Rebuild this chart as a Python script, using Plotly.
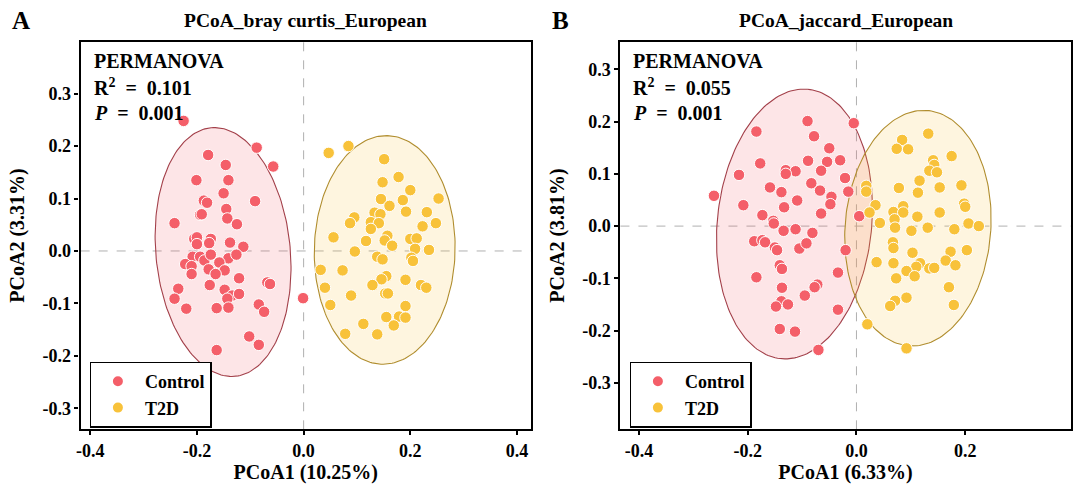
import numpy as np
import plotly.graph_objects as go

# ---- panel A: bray curtis ----
a_ctrl_x = [-0.225, -0.088, -0.057, -0.179, -0.146, -0.201, -0.141, -0.150, -0.187, -0.181,
            -0.091, -0.145, -0.194, -0.191, -0.143, -0.242, -0.125, -0.205, -0.200, -0.174,
            -0.200, -0.177, -0.138, -0.113, -0.208, -0.194, -0.186, -0.174, -0.141, -0.126,
            -0.222, -0.210, -0.210, -0.178, -0.158, -0.148, -0.165, -0.121, -0.068, -0.063,
            -0.235, -0.176, -0.148, -0.242, -0.134, -0.143, -0.121, -0.220, -0.163, -0.141,
            -0.084, -0.074, -0.001, -0.102, -0.084, -0.163]
a_ctrl_y = [0.248, 0.197, 0.161, 0.183, 0.164, 0.135, 0.135, 0.110, 0.096, 0.092,
            0.095, 0.080, 0.069, 0.070, 0.062, 0.053, 0.051, 0.023, 0.026, 0.023,
            0.013, 0.015, 0.016, 0.008, -0.011, -0.011, -0.018, -0.007, -0.014, -0.007,
            -0.025, -0.029, -0.044, -0.035, -0.022, -0.037, -0.044, -0.052, -0.060, -0.063,
            -0.072, -0.065, -0.074, -0.091, -0.085, -0.091, -0.082, -0.110, -0.109, -0.108,
            -0.102, -0.116, -0.090, -0.163, -0.179, -0.189]
a_t2d_x = [0.047, 0.084, 0.151, 0.178, 0.148, 0.200, 0.145, 0.186, 0.253, 0.161,
           0.192, 0.133, 0.144, 0.095, 0.231, 0.087, 0.126, 0.141, 0.126, 0.248,
           0.223, 0.056, 0.117, 0.157, 0.152, 0.166, 0.200, 0.212, 0.209, 0.235,
           0.096, 0.138, 0.148, 0.202, 0.205, 0.032, 0.073, 0.155, 0.146, 0.191,
           0.129, 0.040, 0.220, 0.230, 0.089, 0.153, 0.158, 0.050, 0.191, 0.155,
           0.179, 0.191, 0.112, 0.169, 0.078, 0.138]
a_t2d_y = [0.187, 0.200, 0.175, 0.141, 0.131, 0.116, 0.099, 0.097, 0.100, 0.086,
           0.075, 0.073, 0.070, 0.064, 0.074, 0.053, 0.055, 0.053, 0.042, 0.053,
           0.047, 0.026, 0.019, 0.029, 0.020, 0.010, 0.023, 0.024, 0.004, 0.002,
           -0.001, -0.011, -0.016, -0.013, -0.019, -0.036, -0.037, -0.048, -0.054, -0.055,
           -0.065, -0.070, -0.065, -0.070, -0.085, -0.081, -0.081, -0.103, -0.105, -0.126,
           -0.125, -0.127, -0.139, -0.142, -0.158, -0.159]

# ---- panel B: jaccard ----
b_ctrl_x = [-0.262, -0.184, -0.090, -0.005, -0.177, -0.078, -0.216, -0.050, -0.130, -0.112,
            -0.089, -0.054, -0.030, -0.065, -0.130, -0.021, -0.159, -0.138, -0.083, -0.067,
            -0.015, -0.046, -0.048, -0.208, -0.109, -0.133, -0.173, -0.153, -0.152, -0.065,
            0.005, -0.134, -0.112, -0.081, -0.188, -0.173, -0.168, -0.150, -0.146, -0.105,
            -0.092, -0.020, -0.141, -0.137, -0.034, -0.184, -0.137, -0.072, -0.077, -0.095,
            -0.138, -0.126, -0.148, -0.034, -0.141, -0.113, -0.070]
b_ctrl_y = [0.058, 0.181, 0.201, 0.197, 0.120, 0.172, 0.098, 0.149, 0.107, 0.105,
            0.125, 0.123, 0.126, 0.106, 0.100, 0.092, 0.074, 0.065, 0.082, 0.068,
            0.066, 0.056, 0.042, 0.040, 0.049, 0.036, 0.021, 0.010, 0.005, 0.024,
            0.019, -0.009, -0.006, -0.013, -0.029, -0.027, -0.031, -0.041, -0.046, -0.043,
            -0.033, -0.046, -0.075, -0.082, -0.089, -0.098, -0.118, -0.112, -0.117, -0.133,
            -0.144, -0.150, -0.154, -0.160, -0.197, -0.202, -0.237]
b_t2d_x = [0.132, 0.084, 0.074, 0.095, 0.175, 0.141, 0.143, 0.134, 0.148, 0.116,
           0.018, 0.018, 0.078, 0.153, 0.193, 0.113, 0.035, 0.086, 0.198, 0.200,
           0.024, 0.068, 0.086, 0.153, 0.070, 0.112, 0.043, 0.071, 0.101, 0.131,
           0.180, 0.206, 0.225, 0.067, 0.068, 0.103, 0.173, 0.203, 0.037, 0.068,
           0.117, 0.110, 0.092, 0.134, 0.143, 0.164, 0.182, 0.107, 0.073, 0.170,
           0.092, 0.071, 0.062, 0.179, 0.020, 0.092]
b_t2d_y = [0.177, 0.165, 0.148, 0.147, 0.134, 0.126, 0.117, 0.106, 0.103, 0.087,
           0.077, 0.066, 0.073, 0.074, 0.078, 0.064, 0.040, 0.038, 0.043, 0.037,
           0.026, 0.027, 0.026, 0.026, 0.013, 0.018, 0.006, -0.003, -0.009, -0.003,
           -0.006, 0.005, 0.000, -0.031, -0.042, -0.051, -0.049, -0.046, -0.069, -0.071,
           -0.071, -0.078, -0.086, -0.081, -0.080, -0.066, -0.075, -0.096, -0.100, -0.117,
           -0.137, -0.143, -0.153, -0.151, -0.188, -0.234]

# ellipse params: [cx, cy, semi-major, semi-minor, angle deg]
a_ctrl_ell = [-0.151, -0.002, 0.238, 0.126, 95.4]
a_t2d_ell = [0.152, 0.002, 0.218, 0.132, 88.7]
b_ctrl_ell = [-0.114, 0.004, 0.259, 0.142, 84.6]
b_t2d_ell = [0.113, -0.004, 0.226, 0.134, 85.9]

titles = ["PCoA_bray curtis_European", "PCoA_jaccard_European"]
xlabels = ["PCoA1 (10.25%)", "PCoA1 (6.33%)"]
ylabels = ["PCoA2 (3.31%)", "PCoA2 (3.81%)"]
r2_vals = ["0.101", "0.055"]
p_vals = ["0.001", "0.001"]
panel_tags = ["A", "B"]
xtick_vals = [-0.4, -0.2, 0.0, 0.2, 0.4]
xtick_text = ["-0.4", "-0.2", "0.0", "0.2", "0.4"]
ytick_vals = [-0.3, -0.2, -0.1, 0.0, 0.1, 0.2, 0.3]
ytick_text = ["-0.3", "-0.2", "-0.1", "0.0", "0.1", "0.2", "0.3"]

W, H = 1080, 490
RED = "#F45F69"
YEL = "#F8C23A"
FONT = "Liberation Serif"
PLOT_TOP, PLOT_BOT = 41.7, 429.3


def ellipse(p, n=200):
    cx, cy, a, b, ang = p
    t = np.linspace(0, 2 * np.pi, n)
    phi = np.deg2rad(ang)
    x = cx + a * np.cos(t) * np.cos(phi) - b * np.sin(t) * np.sin(phi)
    y = cy + a * np.cos(t) * np.sin(phi) + b * np.sin(t) * np.cos(phi)
    return x, y


def bold(size):
    return dict(family=FONT, size=size, color="black", weight="bold")


fig = go.Figure()

panels = [
    dict(ctrl=(a_ctrl_x, a_ctrl_y), t2d=(a_t2d_x, a_t2d_y), ell=(a_ctrl_ell, a_t2d_ell),
         xr=[-0.418, 0.426], yr=[-0.340, 0.399], px=[76.0, 528.3], legend="legend", tag_x=5),
    dict(ctrl=(b_ctrl_x, b_ctrl_y), t2d=(b_t2d_x, b_t2d_y), ell=(b_ctrl_ell, b_t2d_ell),
         xr=[-0.434, 0.394], yr=[-0.389, 0.353], px=[618.3, 1070.7], legend="legend2", tag_x=548),
]

for i, p in enumerate(panels):
    xa = "x" if i == 0 else "x2"
    ya = "y" if i == 0 else "y2"
    dom = [p["px"][0] / W, p["px"][1] / W]

    ex, ey = ellipse(p["ell"][0])
    fig.add_trace(go.Scatter(x=ex, y=ey, mode="lines", fill="toself",
                             fillcolor="rgba(244,95,105,0.16)",
                             line=dict(color="#A3404A", width=1.1),
                             showlegend=False, hoverinfo="skip", xaxis=xa, yaxis=ya))
    ex, ey = ellipse(p["ell"][1])
    fig.add_trace(go.Scatter(x=ex, y=ey, mode="lines", fill="toself",
                             fillcolor="rgba(248,194,58,0.16)",
                             line=dict(color="#B08D2E", width=1.1),
                             showlegend=False, hoverinfo="skip", xaxis=xa, yaxis=ya))
    fig.add_trace(go.Scatter(x=p["ctrl"][0], y=p["ctrl"][1], mode="markers", name="Control",
                             marker=dict(color=RED, size=11.5, line=dict(color="white", width=1)),
                             legend=p["legend"], xaxis=xa, yaxis=ya))
    fig.add_trace(go.Scatter(x=p["t2d"][0], y=p["t2d"][1], mode="markers", name="T2D",
                             marker=dict(color=YEL, size=11.5, line=dict(color="white", width=1)),
                             legend=p["legend"], xaxis=xa, yaxis=ya))

    # dashed zero lines
    fig.add_shape(type="line", x0=0, x1=0, y0=0, y1=1, xref=xa, yref=f"{ya} domain",
                  line=dict(color="#B0B0B0", width=1, dash="dash"), layer="below")
    fig.add_shape(type="line", y0=0, y1=0, x0=0, x1=1, yref=ya, xref=f"{xa} domain",
                  line=dict(color="#B0B0B0", width=1, dash="dash"), layer="below")

    axis_common = dict(showline=True, linecolor="black", linewidth=2.3, mirror=True,
                       ticks="outside", ticklen=4, tickwidth=1.5, tickcolor="black",
                       showgrid=False, zeroline=False, tickfont=bold(18))
    fig.update_layout(**{
        ("xaxis" if i == 0 else "xaxis2"): dict(
            axis_common, range=p["xr"], domain=dom, anchor=ya,
            tickvals=xtick_vals, ticktext=xtick_text,
            title=dict(text=xlabels[i], standoff=5, font=bold(20))),
        ("yaxis" if i == 0 else "yaxis2"): dict(
            axis_common, range=p["yr"], domain=[1 - PLOT_BOT / H, 1 - PLOT_TOP / H], anchor=xa,
            tickvals=ytick_vals, ticktext=ytick_text,
            title=dict(text=ylabels[i], standoff=12, font=bold(20))),
    })

    # PERMANOVA block, one line per annotation
    stat_lines = ["PERMANOVA",
                  "R<sup>2</sup> &nbsp;=&nbsp; " + r2_vals[i],
                  "<i>P</i> &nbsp;=&nbsp; " + p_vals[i]]
    for k, line in enumerate(stat_lines):
        fig.add_annotation(text=line, xref="paper", yref="paper",
                           x=(p["px"][0] + 11) / W, y=1 - (61 + 26 * k) / H,
                           xanchor="left", yanchor="middle", showarrow=False, font=bold(20))

    fig.add_annotation(text=titles[i], xref="paper", yref="paper",
                       x=sum(dom) / 2, y=1 - 20 / H, xanchor="center", yanchor="middle",
                       showarrow=False, font=bold(19.5))
    fig.add_annotation(text=panel_tags[i], xref="paper", yref="paper",
                       x=p["tag_x"] / W, y=1 - 20 / H,
                       xanchor="left", yanchor="middle", showarrow=False, font=bold(25))

legend_style = dict(xanchor="left", yanchor="top", bgcolor="white", bordercolor="black",
                    borderwidth=1.3, tracegroupgap=0, itemsizing="constant",
                    itemwidth=44, font=bold(18))
fig.update_layout(
    width=W, height=H,
    margin=dict(l=0, r=0, t=0, b=0),
    plot_bgcolor="white", paper_bgcolor="white",
    font=dict(family=FONT, color="black"),
    legend=dict(legend_style, x=85 / W, y=1 - 361.7 / H),
    legend2=dict(legend_style, x=627.5 / W, y=1 - 361.7 / H),
)

fig.write_html("out.html", config={"displayModeBar": False},
               post_script="document.body.style.margin='0';")
